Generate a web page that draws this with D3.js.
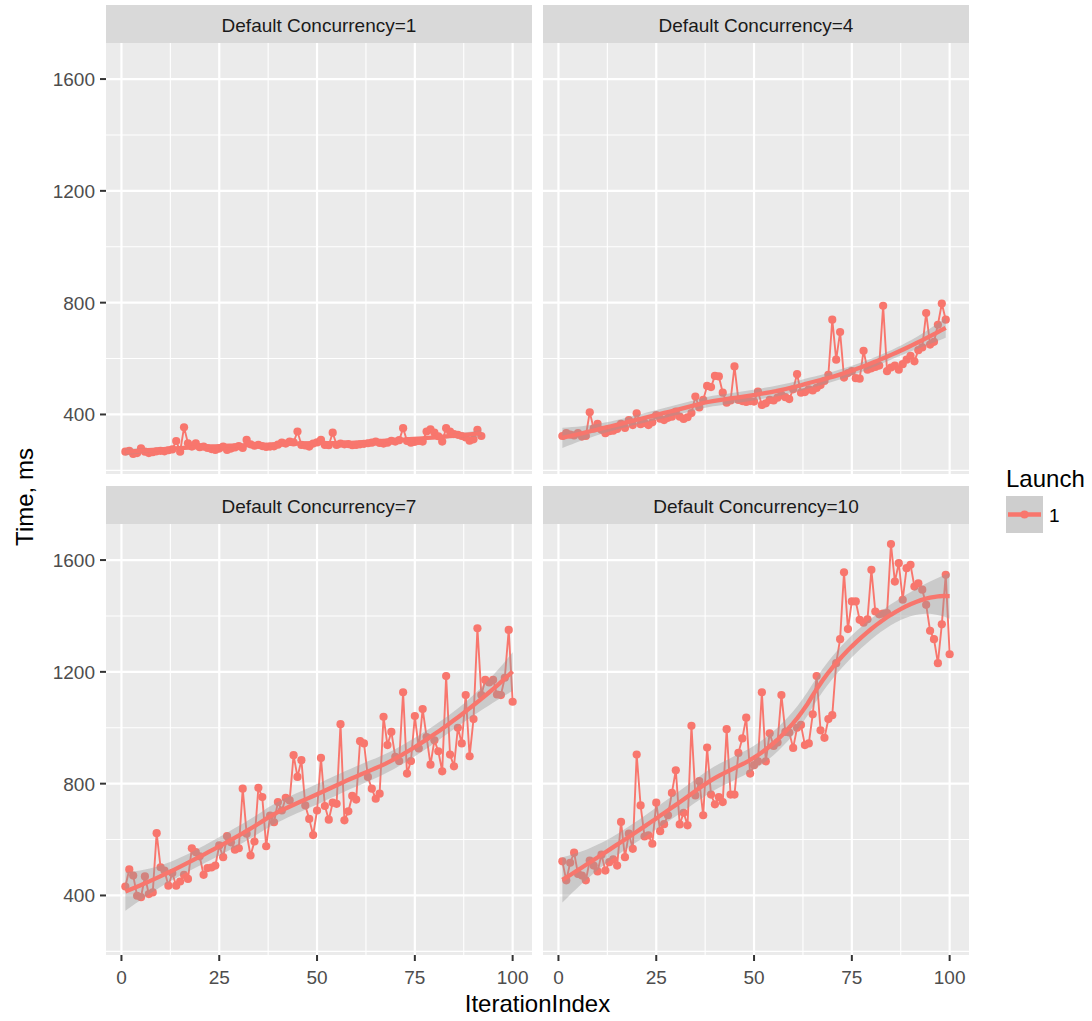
<!DOCTYPE html>
<html>
<head>
<meta charset="utf-8">
<script src="https://cdn.jsdelivr.net/npm/d3@7"></script>
<style>
  body { margin: 0; background: #fff; }
  text { font-family: "Liberation Sans", Arial, sans-serif; }
</style>
</head>
<body>
<div id="chart"></div>
<script>
// Facet titles and the series colour (only one launch)
const panelTitles = ["Default Concurrency=1", "Default Concurrency=4", "Default Concurrency=7", "Default Concurrency=10"];
const launchNames = ["1"];
const launchColour = "#F8766D";

// Time, ms per IterationIndex (index 1..n)
const timesC1 = [267, 270, 259, 262, 279, 267, 262, 265, 268, 270, 268, 272, 275, 305, 267, 354, 297, 285, 297, 283,
  285, 280, 276, 273, 278, 285, 273, 278, 282, 287, 280, 309, 293, 288, 291, 287, 284, 285, 286, 292,
  299, 296, 303, 300, 339, 291, 289, 285, 296, 300, 309, 291, 290, 335, 291, 296, 293, 294, 290, 291,
  293, 295, 297, 299, 303, 298, 296, 299, 306, 303, 308, 351, 305, 299, 302, 305, 303, 339, 347, 335,
  322, 303, 351, 339, 330, 327, 323, 318, 306, 311, 345, 323];

const timesC4 = [323, 333, 328, 325, 333, 321, 323, 408, 350, 366, 345, 333, 340, 342, 348, 366, 352, 380, 362, 404,
  365, 370, 362, 372, 398, 385, 380, 388, 392, 410, 392, 384, 390, 405, 464, 425, 452, 502, 498, 538,
  536, 478, 442, 450, 572, 452, 448, 445, 448, 446, 482, 434, 440, 452, 450, 460, 470, 462, 455, 490,
  544, 478, 480, 490, 486, 495, 505, 520, 542, 739, 596, 695, 532, 548, 555, 530, 528, 628, 560, 565,
  570, 575, 789, 555, 568, 575, 560, 580, 596, 610, 590, 630, 640, 763, 650, 660, 721, 797, 739];

const timesC7 = [432, 493, 471, 399, 394, 468, 405, 411, 623, 501, 489, 435, 480, 435, 450, 474, 459, 569, 555, 540,
  474, 498, 500, 507, 579, 537, 612, 590, 564, 569, 782, 621, 543, 593, 785, 752, 576, 686, 662, 734,
  704, 749, 740, 902, 824, 884, 722, 674, 616, 704, 892, 720, 671, 732, 728, 1013, 669, 701, 756, 743,
  952, 944, 824, 782, 746, 764, 1039, 938, 985, 896, 881, 1127, 836, 881, 1042, 926, 1067, 967, 868, 955,
  916, 844, 1185, 904, 862, 1000, 944, 1117, 898, 1031, 1356, 1117, 1171, 1162, 1171, 1119, 1117, 1179, 1350, 1093];

const timesC10 = [522, 454, 517, 553, 477, 471, 454, 525, 507, 486, 546, 489, 519, 529, 507, 663, 537, 621, 567, 904,
  722, 611, 615, 585, 732, 630, 655, 687, 767, 848, 654, 696, 651, 1007, 758, 809, 687, 929, 761, 726,
  752, 734, 995, 761, 761, 910, 962, 1036, 836, 866, 880, 1127, 880, 980, 935, 947, 1117, 985, 983, 928,
  1000, 1010, 938, 944, 1048, 1185, 991, 964, 1031, 1045, 1231, 1317, 1556, 1353, 1452, 1452, 1386, 1376, 1388, 1565,
  1416, 1406, 1408, 1410, 1657, 1523, 1589, 1458, 1571, 1583, 1505, 1517, 1494, 1440, 1347, 1317, 1231, 1370, 1547, 1263];

const xTicks = [0, 25, 50, 75, 100];
const xMinor = [12.5, 37.5, 62.5, 87.5];
const yTicks = [400, 800, 1200, 1600];
const yMinor = [200, 600, 1000, 1400];

// loess (span 0.75, degree 2, tricube) with standard error band, like geom_smooth
const loess = (xs, ys, span = 0.75) => {
  const n = xs.length;
  const q = Math.floor(n * span);

  const rowAt = x0 => {
    const d = xs.map(x => Math.abs(x - x0));
    const h = d.slice().sort((a, b) => a - b)[q - 1] * 1.0001;
    const w = d.map(v => v < h ? Math.pow(1 - Math.pow(v / h, 3), 3) : 0);
    const S = [[0, 0, 0], [0, 0, 0], [0, 0, 0]];
    xs.forEach((x, i) => {
      const b = [1, x - x0, (x - x0) * (x - x0)];
      for (let r = 0; r < 3; r++)
        for (let c = 0; c < 3; c++) S[r][c] += w[i] * b[r] * b[c];
    });
    const inv = invert3(S);
    return xs.map((x, i) => {
      const b = [1, x - x0, (x - x0) * (x - x0)];
      return w[i] * (inv[0][0] * b[0] + inv[0][1] * b[1] + inv[0][2] * b[2]);
    });
  };

  // operator matrix at the data points -> residual scale and df
  const L = xs.map(rowAt);
  const fitted = L.map(row => d3.sum(row, (l, i) => l * ys[i]));
  const rss = d3.sum(ys, (y, i) => (y - fitted[i]) ** 2);
  const IL = L.map((row, r) => row.map((l, c) => (r === c ? 1 : 0) - l));
  let oneDelta = 0;
  IL.forEach(row => row.forEach(v => { oneDelta += v * v; }));
  let twoDelta = 0;
  for (let a = 0; a < n; a++) {
    for (let b = 0; b < n; b++) {
      let m = 0;
      for (let k = 0; k < n; k++) m += IL[k][a] * IL[k][b];
      twoDelta += m * m;
    }
  }
  const s = Math.sqrt(rss / oneDelta);
  const df = oneDelta * oneDelta / twoDelta;
  const z = 1.959964;
  const t = z + (z ** 3 + z) / (4 * df) + (5 * z ** 5 + 16 * z ** 3 + 3 * z) / (96 * df * df);

  const [lo, hi] = d3.extent(xs);
  return d3.range(80).map(k => {
    const x0 = lo + (hi - lo) * k / 79;
    const row = rowAt(x0);
    const fit = d3.sum(row, (l, i) => l * ys[i]);
    const se = s * Math.sqrt(d3.sum(row, l => l * l));
    return { x: x0, fit, ymin: fit - t * se, ymax: fit + t * se };
  });
};

function invert3(m) {
  const [[a, b, c], [d, e, f], [g, h, i]] = m;
  const A = e * i - f * h, B = -(d * i - f * g), C = d * h - e * g;
  const det = a * A + b * B + c * C;
  return [
    [A / det, -(b * i - c * h) / det, (b * f - c * e) / det],
    [B / det, (a * i - c * g) / det, -(a * f - c * d) / det],
    [C / det, -(a * h - b * g) / det, (a * e - b * d) / det]
  ];
}

const drawFacets = () => {
  const width = 1092;
  const height = 1021;
  const panelW = 426;
  const panelH = 431;
  const stripH = 38;
  const panelX = [106, 543];
  const panelY = [43, 524];

  const svg = d3.select("#chart")
    .append("svg")
    .attr("width", width)
    .attr("height", height)
    .style("display", "block");

  const series = [timesC1, timesC4, timesC7, timesC10];

  const x = d3.scaleLinear().domain([-3.95, 104.95]).range([0, panelW]);
  const y = d3.scaleLinear().domain([187, 1729]).range([panelH, 0]);

  const line = d3.line().x(d => x(d.x)).y(d => y(d.y));
  const smoothLine = d3.line().x(d => x(d.x)).y(d => y(d.fit));
  const band = d3.area().x(d => x(d.x)).y0(d => y(d.ymin)).y1(d => y(d.ymax));

  series.forEach((vals, p) => {
    const col = p % 2;
    const row = Math.floor(p / 2);
    const g = svg.append("g")
      .attr("transform", `translate(${panelX[col]}, ${panelY[row]})`);

    // strip
    g.append("rect")
      .attr("x", 0).attr("y", -stripH)
      .attr("width", panelW).attr("height", stripH)
      .attr("fill", "#D9D9D9");
    g.append("text")
      .attr("x", panelW / 2).attr("y", -stripH + 27)
      .attr("text-anchor", "middle")
      .attr("fill", "#1A1A1A")
      .style("font-size", "19px")
      .text(panelTitles[p]);

    // panel background and grid
    g.append("rect")
      .attr("width", panelW).attr("height", panelH)
      .attr("fill", "#EBEBEB");

    g.selectAll(".minor-y").data(yMinor).join("line")
      .attr("x1", 0).attr("x2", panelW)
      .attr("y1", d => y(d)).attr("y2", d => y(d))
      .attr("stroke", "#fff").attr("stroke-width", 1.1);
    g.selectAll(".minor-x").data(xMinor).join("line")
      .attr("y1", 0).attr("y2", panelH)
      .attr("x1", d => x(d)).attr("x2", d => x(d))
      .attr("stroke", "#fff").attr("stroke-width", 1.1);
    g.selectAll(".major-y").data(yTicks).join("line")
      .attr("x1", 0).attr("x2", panelW)
      .attr("y1", d => y(d)).attr("y2", d => y(d))
      .attr("stroke", "#fff").attr("stroke-width", 2.2);
    g.selectAll(".major-x").data(xTicks).join("line")
      .attr("y1", 0).attr("y2", panelH)
      .attr("x1", d => x(d)).attr("x2", d => x(d))
      .attr("stroke", "#fff").attr("stroke-width", 2.2);

    const pts = vals.map((v, i) => ({ x: i + 1, y: v }));
    const smooth = loess(pts.map(d => d.x), vals);

    g.append("path")
      .attr("d", line(pts))
      .attr("fill", "none")
      .attr("stroke", launchColour)
      .attr("stroke-width", 1.9);

    g.selectAll("circle").data(pts).join("circle")
      .attr("cx", d => x(d.x))
      .attr("cy", d => y(d.y))
      .attr("r", 4.1)
      .attr("fill", launchColour);

    g.append("path")
      .attr("d", band(smooth))
      .attr("fill", "#999999")
      .attr("fill-opacity", 0.4);

    g.append("path")
      .attr("d", smoothLine(smooth))
      .attr("fill", "none")
      .attr("stroke", launchColour)
      .attr("stroke-width", 4.3);

    // y axis on left column
    if (col === 0) {
      g.selectAll(".ytick").data(yTicks).join("line")
        .attr("x1", -6).attr("x2", 0)
        .attr("y1", d => y(d)).attr("y2", d => y(d))
        .attr("stroke", "#333").attr("stroke-width", 2);
      g.selectAll(".ylab").data(yTicks).join("text")
        .attr("x", -11)
        .attr("y", d => y(d))
        .attr("dy", "0.36em")
        .attr("text-anchor", "end")
        .attr("fill", "#4D4D4D")
        .style("font-size", "19px")
        .text(d => d);
    }

    // x axis on bottom row
    if (row === 1) {
      g.selectAll(".xtick").data(xTicks).join("line")
        .attr("x1", d => x(d)).attr("x2", d => x(d))
        .attr("y1", panelH).attr("y2", panelH + 6)
        .attr("stroke", "#333").attr("stroke-width", 2);
      g.selectAll(".xlab").data(xTicks).join("text")
        .attr("x", d => x(d))
        .attr("y", panelH + 29)
        .attr("text-anchor", "middle")
        .attr("fill", "#4D4D4D")
        .style("font-size", "19px")
        .text(d => d);
    }
  });

  // axis titles
  svg.append("text")
    .attr("x", (panelX[0] + panelX[1] + panelW) / 2)
    .attr("y", 1012)
    .attr("text-anchor", "middle")
    .style("font-size", "24px")
    .text("IterationIndex");

  svg.append("text")
    .attr("transform", "translate(33, 497) rotate(-90)")
    .attr("text-anchor", "middle")
    .style("font-size", "24px")
    .text("Time, ms");

  // legend
  const legend = svg.append("g").attr("transform", "translate(1006, 0)");
  legend.append("text")
    .attr("x", 0).attr("y", 487)
    .style("font-size", "24px")
    .text("Launch");

  const key = legend.selectAll(".key").data(launchNames).join("g")
    .attr("transform", (d, i) => `translate(0, ${496 + i * 37})`);
  key.append("rect")
    .attr("width", 37).attr("height", 37)
    .attr("fill", "#CECECE");
  key.append("line")
    .attr("x1", 2).attr("x2", 35)
    .attr("y1", 18.5).attr("y2", 18.5)
    .attr("stroke", launchColour).attr("stroke-width", 4.3);
  key.append("circle")
    .attr("cx", 18.5).attr("cy", 18.5).attr("r", 4.1)
    .attr("fill", launchColour);
  key.append("text")
    .attr("x", 43).attr("y", 26)
    .style("font-size", "19px")
    .text(d => d);
};

drawFacets();
</script>
</body>
</html>
